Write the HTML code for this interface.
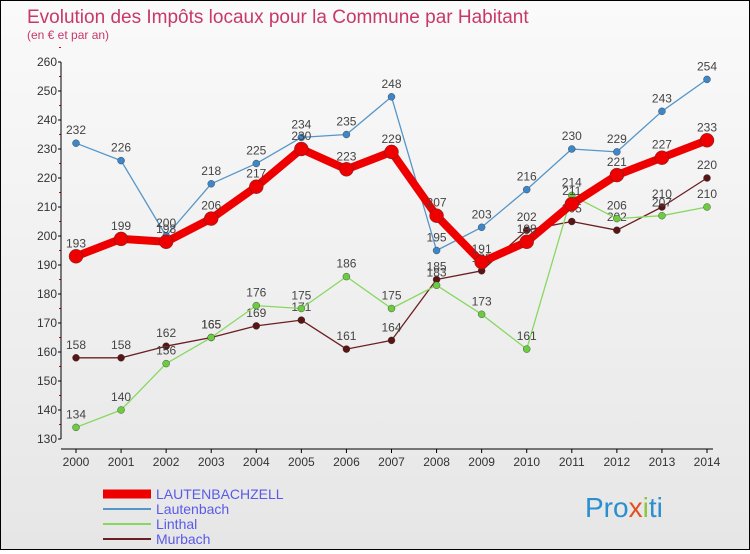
<!DOCTYPE html>
<html><head><meta charset="utf-8"><style>
body{margin:0}
#c{width:748px;height:548px;border:1px solid #000;background:linear-gradient(#fafafa,#e6e6e6);position:relative;font-family:"Liberation Sans",sans-serif}
svg text{font-family:"Liberation Sans",sans-serif}
</style></head><body>
<div id="c">
<svg id="s" width="748" height="548">
<text x="26" y="22" font-size="19" fill="#c8386a">Evolution des Impôts locaux pour la Commune par Habitant</text>
<text x="26" y="38" font-size="12" fill="#c8386a">(en € et par an)</text>
<g id="g"></g>
<text x="584" y="516" font-size="28" fill="#2a8fd0">Pro<tspan fill="#e05020">x</tspan><tspan fill="#8cc63f">i</tspan>ti</text>
</svg></div>
<script>
const years=[2000,2001,2002,2003,2004,2005,2006,2007,2008,2009,2010,2011,2012,2013,2014];
const yTicks=[130,140,150,160,170,180,190,200,210,220,230,240,250,260];
const lautenbachzell=[193,199,198,206,217,230,223,229,207,191,198,211,221,227,233];
const lautenbach=[232,226,200,218,225,234,235,248,195,203,216,230,229,243,254];
const linthal=[134,140,156,165,176,175,186,175,183,173,161,214,206,207,210];
const murbach=[158,158,162,165,169,171,161,164,185,188,202,205,202,210,220];
const seriesNames=["LAUTENBACHZELL","Lautenbach","Linthal","Murbach"];
const ns="http://www.w3.org/2000/svg",g=document.getElementById('g');
const X=i=>75+i*(706-75)/14, Y=v=>438-(v-130)*(438-61)/130;
function mk(t,a,p){const e=document.createElementNS(ns,t);for(const k in a)e.setAttribute(k,a[k]);(p||g).appendChild(e);return e;}
yTicks.forEach(v=>{
const t=mk('text',{x:56,y:Y(v)+4,'font-size':12,'text-anchor':'end',fill:'#333'});t.textContent=v;


mk('line',{x1:57,x2:60,y1:Y(v),y2:Y(v),stroke:'#000'});
mk('line',{x1:58,x2:60,y1:Y(v+5),y2:Y(v+5),stroke:'#e00'});});
mk('line',{x1:60,x2:60,y1:61,y2:438,stroke:'#000'});
mk('line',{x1:60,x2:712,y1:448,y2:448,stroke:'#000'});
years.forEach((y,i)=>{mk('line',{x1:X(i),x2:X(i),y1:448,y2:452,stroke:'#000'});
const t=mk('text',{x:X(i),y:465,'font-size':12,'text-anchor':'middle',fill:'#333'});t.textContent=y;

});
const cfg=[[murbach,'#6b1f22',1.3,3.5,'#5a1414'],[linthal,'#88d860',1.3,3.5,'#6ccc40'],[lautenbach,'#5596c8',1.3,3.5,'#3d87c8'],[lautenbachzell,'#ee0000',8,7,'#ee0000']];
const names=['murbach','linthal','lautenbach','lautenbachzell'];
cfg.forEach(([d,c,w,r,fc],k)=>{const p=mk('polyline',{points:d.map((v,i)=>X(i)+','+Y(v)).join(' '),fill:'none',stroke:c,'stroke-width':w,'stroke-linejoin':'round'});


d.forEach((v,i)=>{const q=mk('circle',{cx:X(i),cy:Y(v),r:r,fill:fc,stroke:'#333','stroke-width':0.4});


const t=mk('text',{x:X(i),y:Y(v)-9,'font-size':12,'text-anchor':'middle',fill:'#444'});t.textContent=v;

});});
const lc=['#ee0000','#5596c8','#88d860','#6b1f22'],lw=[9,2,2,2];
seriesNames.forEach((n,i)=>{const y=493+i*15;
mk('line',{x1:102,x2:150,y1:y,y2:y,stroke:lc[i],'stroke-width':lw[i]});
const t=mk('text',{x:155,y:y+5,'font-size':14,fill:'#5a5ae8'});t.textContent=n;

});
</script></body></html>
